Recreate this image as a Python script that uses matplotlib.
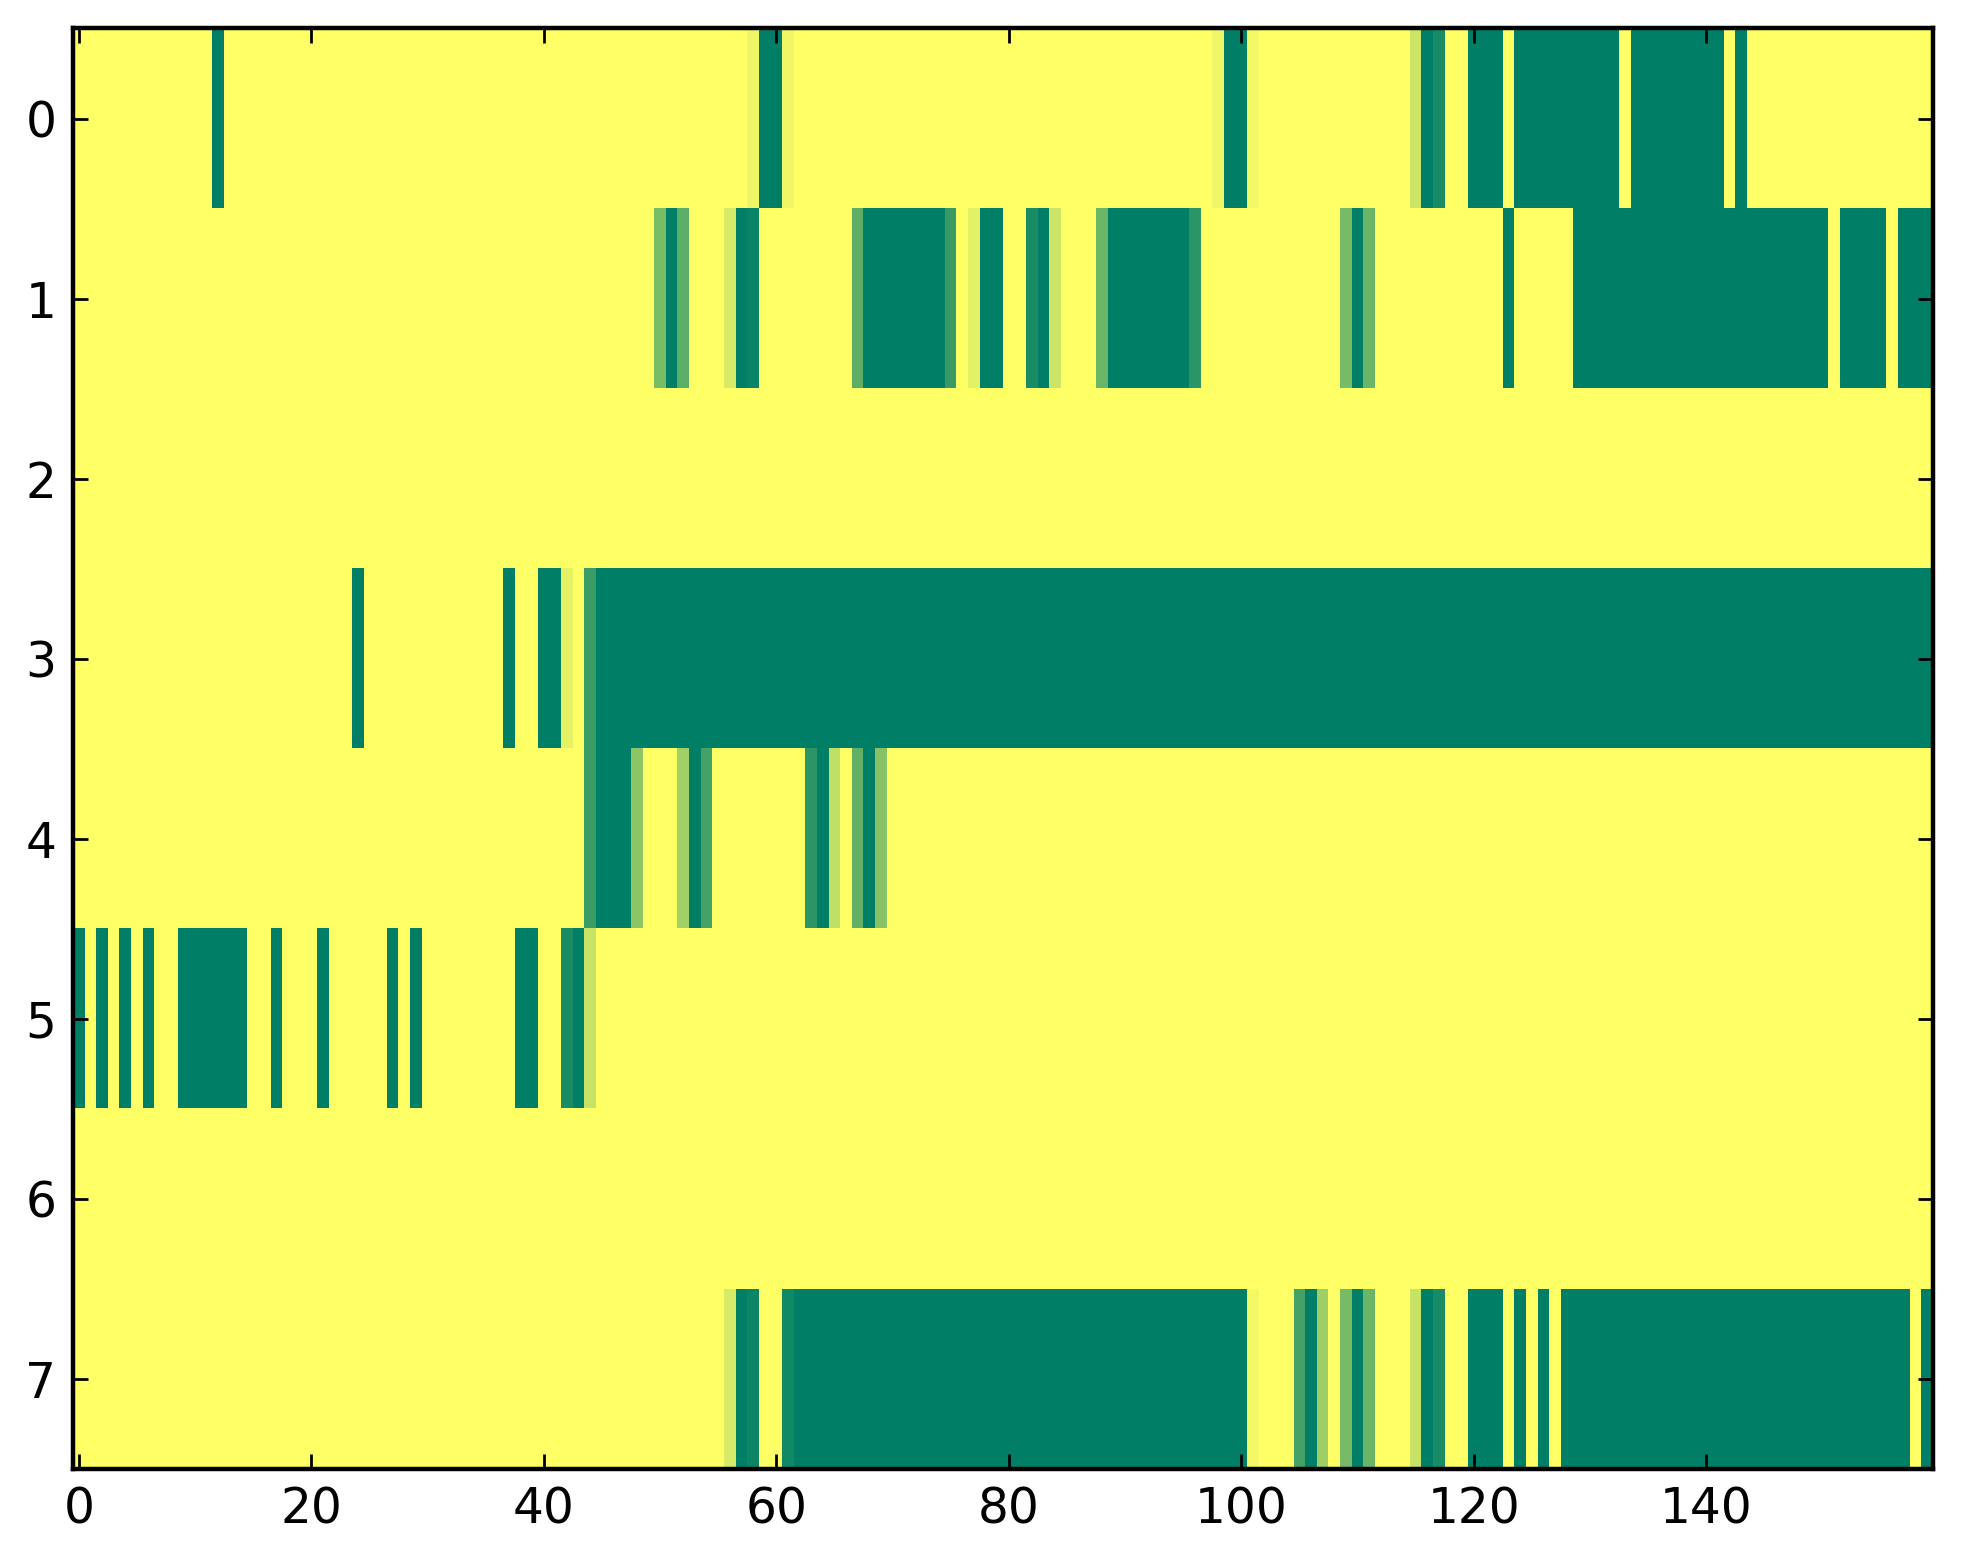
import matplotlib
matplotlib.use('Agg')
import matplotlib.pyplot as plt
import numpy as np

# ── data: 8 rows x 160 columns, background value 1.0 ─────────────
n_rows, n_cols = 8, 160
# runs of (first column, last column, value) that differ from 1.0
row0 = [(12, 12, 0), (58, 58, 0.94), (59, 60, 0), (61, 61, 0.94),
        (98, 98, 0.94), (99, 100, 0), (101, 101, 0.95), (115, 115, 0.8),
        (116, 116, 0), (117, 117, 0.1), (120, 122, 0), (124, 132, 0),
        (134, 141, 0), (143, 143, 0)]
row1 = [(50, 50, 0.48), (51, 51, 0), (52, 52, 0.36), (56, 56, 0.84),
        (57, 57, 0), (58, 58, 0.04), (67, 67, 0.37), (68, 74, 0),
        (75, 75, 0.22), (77, 77, 0.89), (78, 79, 0), (82, 82, 0.1),
        (83, 83, 0), (84, 84, 0.8), (88, 88, 0.42), (89, 95, 0),
        (96, 96, 0.17), (109, 109, 0.47), (110, 110, 0), (111, 111, 0.42),
        (123, 123, 0), (129, 150, 0), (152, 155, 0), (157, 159, 0)]
row2 = []
row3 = [(24, 24, 0), (37, 37, 0), (40, 41, 0), (42, 42, 0.9),
        (44, 44, 0.23), (45, 159, 0)]
row4 = [(44, 44, 0.23), (45, 47, 0), (48, 48, 0.55), (52, 52, 0.63),
        (53, 53, 0), (54, 54, 0.27), (63, 63, 0.17), (64, 64, 0),
        (65, 65, 0.75), (67, 67, 0.38), (68, 68, 0), (69, 69, 0.53)]
row5 = [(0, 0, 0), (2, 2, 0), (4, 4, 0), (6, 6, 0), (9, 14, 0),
        (17, 17, 0), (21, 21, 0), (27, 27, 0), (29, 29, 0), (38, 39, 0),
        (42, 42, 0.1), (43, 43, 0), (44, 44, 0.78)]
row6 = []
row7 = [(56, 56, 0.84), (57, 57, 0), (58, 58, 0.05), (61, 61, 0.07),
        (62, 100, 0), (101, 101, 0.95), (105, 105, 0.27), (106, 106, 0),
        (107, 107, 0.62), (109, 109, 0.47), (110, 110, 0), (111, 111, 0.42),
        (115, 115, 0.78), (116, 116, 0), (117, 117, 0.1), (120, 122, 0),
        (124, 124, 0), (126, 126, 0), (128, 157, 0), (159, 159, 0)]
rows = [row0, row1, row2, row3, row4, row5, row6, row7]

x_ticks = [0, 20, 40, 60, 80, 100, 120, 140]
y_ticks = [0, 1, 2, 3, 4, 5, 6, 7]

data = np.ones((n_rows, n_cols))
for r, runs in enumerate(rows):
    for a, b, v in runs:
        data[r, a:b + 1] = v

# ── plot ─────────────────────────────────────────────
fig = plt.figure(figsize=(1963 / 200, 1564 / 200), dpi=200)
ax = fig.add_axes([0.0372, 0.0607, 0.9475, 0.9211])
ax.imshow(data, cmap='summer', vmin=0, vmax=1, aspect='auto',
          interpolation='nearest')

ax.set_xticks(x_ticks)
ax.set_yticks(y_ticks)
ax.tick_params(direction='in', top=True, right=True, length=5.5, width=1,
               labelsize=17.5, pad=6)
for s in ax.spines.values():
    s.set_linewidth(1.6)

fig.savefig('out.png', dpi=200)
